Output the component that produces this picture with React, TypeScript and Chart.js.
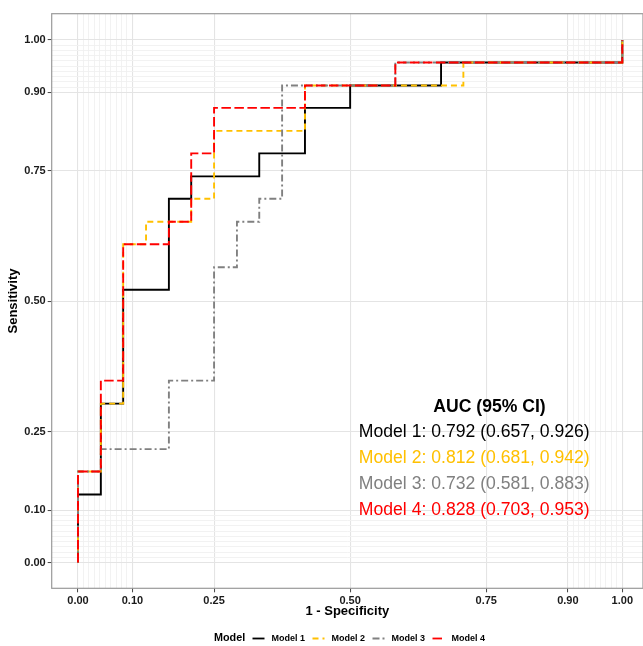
import React, { useEffect, useRef } from "react";
import { Chart, registerables } from "chart.js";

Chart.register(...registerables);

// ---- data ----
const modelNames = ["Model 1", "Model 2", "Model 3", "Model 4"];

// ROC vertices (1 - specificity, sensitivity); drawn as vertical-then-horizontal steps
const m1Fpr = [0, 0.042, 0.083, 0.167, 0.208, 0.333, 0.417, 0.5, 0.667, 1, 1];
const m1Tpr = [0, 0.13, 0.304, 0.522, 0.696, 0.739, 0.783, 0.87, 0.913, 0.957, 1];
const m2Fpr = [0, 0.042, 0.083, 0.125, 0.208, 0.25, 0.417, 0.708, 1, 1];
const m2Tpr = [0, 0.174, 0.304, 0.609, 0.652, 0.696, 0.826, 0.913, 0.957, 1];
const m3Fpr = [0, 0.042, 0.167, 0.25, 0.292, 0.333, 0.375, 0.583, 1, 1];
const m3Tpr = [0, 0.174, 0.217, 0.348, 0.565, 0.652, 0.696, 0.913, 0.957, 1];
const m4Fpr = [0, 0.042, 0.083, 0.167, 0.208, 0.25, 0.417, 0.583, 1, 1];
const m4Tpr = [0, 0.174, 0.348, 0.609, 0.652, 0.783, 0.87, 0.913, 0.957, 1];

const aucTitle = "AUC (95% CI)";
const aucLabels = [
  "Model 1: 0.792 (0.657, 0.926)",
  "Model 2: 0.812 (0.681, 0.942)",
  "Model 3: 0.732 (0.581, 0.883)",
  "Model 4: 0.828 (0.703, 0.953)",
];

const majorTicks = [0, 0.1, 0.25, 0.5, 0.75, 0.9, 1];
const minorTicks = [
  0.01, 0.02, 0.03, 0.04, 0.05, 0.06, 0.07, 0.08, 0.09,
  0.91, 0.92, 0.93, 0.94, 0.95, 0.96, 0.97, 0.98, 0.99,
];

// ---- styles ----
const COLORS = ["#000000", "#FFC000", "#808080", "#FF0000"];
const DASHES: number[][] = [[], [6, 4], [7, 3, 2, 3], [9.5, 3.5]];
const FONT = '"Liberation Sans", Arial, sans-serif';

const isMajor = (v: number) => majorTicks.some((m) => Math.abs(m - v) < 1e-6);
const allTicks = [...majorTicks, ...minorTicks].sort((a, b) => a - b);

const toPts = (xs: number[], ys: number[]) => xs.map((x, i) => ({ x, y: ys[i] }));

const decorPlugin = {
  id: "decor",
  afterDraw(chart: any) {
    const { ctx, chartArea, scales } = chart;
    const xs = scales.x;
    const ys = scales.y;
    ctx.save();
    // panel border
    ctx.strokeStyle = "#9a9a9a";
    ctx.lineWidth = 1.2;
    ctx.strokeRect(chartArea.left, chartArea.top, chartArea.right - chartArea.left, chartArea.bottom - chartArea.top);

    // AUC annotation
    ctx.textBaseline = "middle";
    ctx.textAlign = "center";
    ctx.fillStyle = "#000";
    ctx.font = `bold 17.6px ${FONT}`;
    ctx.fillText(aucTitle, xs.getPixelForValue(0.756), ys.getPixelForValue(0.298));
    ctx.font = `17.6px ${FONT}`;
    const yv = [0.25, 0.2, 0.15, 0.1];
    aucLabels.forEach((t, i) => {
      ctx.fillStyle = COLORS[i];
      ctx.fillText(t, xs.getPixelForValue(0.728), ys.getPixelForValue(yv[i]));
    });

    // legend
    const ly = 638.5;
    ctx.textAlign = "left";
    ctx.fillStyle = "#000";
    ctx.font = `bold 10.8px ${FONT}`;
    ctx.fillText("Model", 214, ly);
    ctx.font = `bold 9px ${FONT}`;
    modelNames.forEach((n, i) => {
      const kx = 252.5 + i * 60;
      ctx.strokeStyle = COLORS[i];
      ctx.lineWidth = 1.8;
      ctx.setLineDash(DASHES[i]);
      ctx.beginPath();
      ctx.moveTo(kx, ly);
      ctx.lineTo(kx + 12, ly);
      ctx.stroke();
      ctx.setLineDash([]);
      ctx.fillStyle = "#000";
      ctx.fillText(n, kx + 19, ly);
    });
    ctx.restore();
  },
};

function axisCommon(titleText: string, isX: boolean) {
  return {
    type: "linear" as const,
    afterBuildTicks: (scale: any) => {
      scale.ticks = allTicks.map((v) => ({ value: v }));
    },
    grid: {
      color: (c: any) => (c.tick && isMajor(c.tick.value) ? "#e4e4e4" : "#f0f0f0"),
      lineWidth: (c: any) => (c.tick && isMajor(c.tick.value) ? 1.1 : 0.9),
      tickColor: (c: any) => (c.tick && isMajor(c.tick.value) ? "#444" : "rgba(0,0,0,0)"),
      tickLength: 4,
      tickWidth: 1,
    },
    border: { display: false },
    ticks: {
      autoSkip: false,
      maxRotation: 0,
      minRotation: 0,
      padding: 2,
      color: "#1a1a1a",
      font: { family: FONT, size: 11, weight: "bold" as const },
      callback: (v: any) => (isMajor(Number(v)) ? Number(v).toFixed(2) : ""),
    },
    title: {
      display: true,
      text: titleText,
      color: "#000",
      font: { family: FONT, size: 13, weight: "bold" as const },
      padding: isX ? { top: 0, bottom: 3 } : { top: 6, bottom: 0 },
    },
  };
}

export default function App() {
  const ref = useRef<HTMLCanvasElement | null>(null);

  useEffect(() => {
    if (!ref.current) return;
    const series = [
      toPts(m1Fpr, m1Tpr),
      toPts(m2Fpr, m2Tpr),
      toPts(m3Fpr, m3Tpr),
      toPts(m4Fpr, m4Tpr),
    ];
    const chart = new Chart(ref.current, {
      type: "line",
      data: {
        datasets: series.map((d, i) => ({
          label: modelNames[i],
          data: d,
          borderColor: COLORS[i],
          backgroundColor: COLORS[i],
          borderWidth: 1.9,
          borderDash: DASHES[i],
          pointRadius: 0,
          stepped: "after" as const,
          fill: false,
          order: 4 - i,
        })),
      },
      options: {
        animation: false,
        responsive: false,
        devicePixelRatio: 1,
        layout: { padding: { left: 0, right: 0, top: 13.7, bottom: 24 } },
        plugins: { legend: { display: false }, tooltip: { enabled: false } },
        scales: {
          x: {
            ...axisCommon("1 - Specificity", true),
            min: -0.0483,
            max: 1.038,
            afterFit: (s: any) => {
              s.height = 33.7;
            },
          },
          y: {
            ...axisCommon("Sensitivity", false),
            min: -0.0494,
            max: 1.0503,
            afterFit: (s: any) => {
              s.width = 51.7;
            },
          },
        },
      } as any,
      plugins: [decorPlugin],
    });
    return () => chart.destroy();
  }, []);

  return (
    <div style={{ position: "absolute", left: 0, top: 0, width: 643, height: 646, background: "#fff" }}>
      <canvas ref={ref} width={643} height={646} style={{ display: "block" }} />
    </div>
  );
}
